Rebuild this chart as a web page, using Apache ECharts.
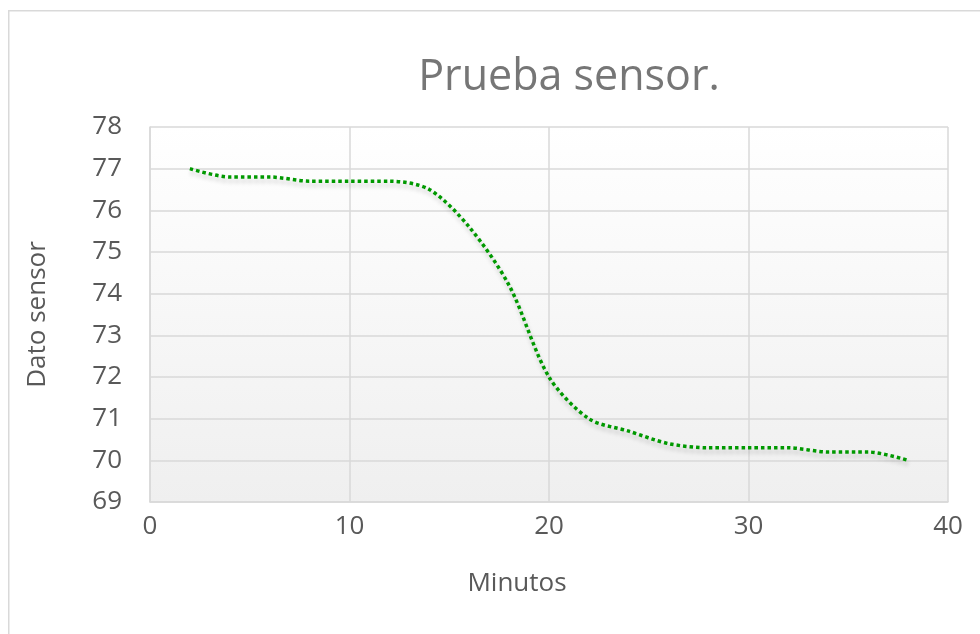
<!DOCTYPE html>
<html>
<head>
<meta charset="utf-8">
<script src="https://cdn.jsdelivr.net/npm/echarts@6/dist/echarts.min.js"></script>
<style>
html,body{margin:0;padding:0;background:#fff;}
#c{width:980px;height:634px;}
</style>
</head>
<body>
<div id="c"></div>
<script>
var minutos = [2,4,6,8,10,12,14,16,18,20,22,24,26,28,30,32,34,36,38];
var datoSensor = [77,76.8,76.8,76.7,76.7,76.7,76.5,75.6,74.2,72,71,70.7,70.4,70.3,70.3,70.3,70.2,70.2,70];
var titleText = 'Prueba sensor.';
var xName = 'Minutos';
var yName = 'Dato sensor';

var FONT = "'Open Sans','Noto Sans',sans-serif";
var pts = minutos.map(function(m,i){return [m, datoSensor[i]];});

var chart = echarts.init(document.getElementById('c'), null, {renderer:'canvas'});
chart.setOption({
  backgroundColor:'#ffffff',
  animation:false,
  graphic:[{
    type:'rect', left:8, top:10, z:-10,
    shape:{width:1000, height:640},
    style:{fill:'#ffffff', stroke:'#d9d9d9', lineWidth:1.5}
  },{
    type:'rect', left:150, top:127, z:-5,
    shape:{width:798, height:375},
    style:{fill:new echarts.graphic.LinearGradient(0,0,0,1,[{offset:0,color:'#ffffff'},{offset:1,color:'#efefef'}])}
  }],
  title:{
    text:titleText, left:564, top:51, textAlign:'center',
    textStyle:{fontFamily:FONT, fontSize:43, fontWeight:'normal', color:'#767676'}
  },
  grid:{left:150, right:32, top:127, bottom:132, containLabel:false},
  xAxis:{
    type:'value', min:0, max:40, interval:10,
    name:xName, nameLocation:'middle', nameGap:69,
    nameTextStyle:{fontFamily:FONT, fontSize:26, color:'#595959', padding:[0,64,0,0]},
    axisLine:{show:true, lineStyle:{color:'#d9d9d9', width:1.5}},
    axisTick:{show:false},
    axisLabel:{fontFamily:FONT, fontSize:26, color:'#595959', margin:12},
    splitLine:{show:true, lineStyle:{color:'#d9d9d9', width:1.5}}
  },
  yAxis:{
    type:'value', min:69, max:78, interval:1,
    name:yName, nameLocation:'middle', nameGap:99,
    nameTextStyle:{fontFamily:FONT, fontSize:26, color:'#595959'},
    axisLine:{show:true, lineStyle:{color:'#d9d9d9', width:1.5}},
    axisTick:{show:false},
    axisLabel:{fontFamily:FONT, fontSize:26, color:'#595959', margin:28},
    splitLine:{show:true, lineStyle:{color:'#d9d9d9', width:1.5}}
  },
  series:[{
    type:'line', data:pts, smooth:0.3, showSymbol:false, symbol:'none',
    lineStyle:{color:'#009900', width:3.5, type:[3.5,3], cap:'butt',
      shadowColor:'rgba(0,0,0,0.2)', shadowBlur:4, shadowOffsetY:4, shadowOffsetX:1}
  }]
});
</script>
</body>
</html>
